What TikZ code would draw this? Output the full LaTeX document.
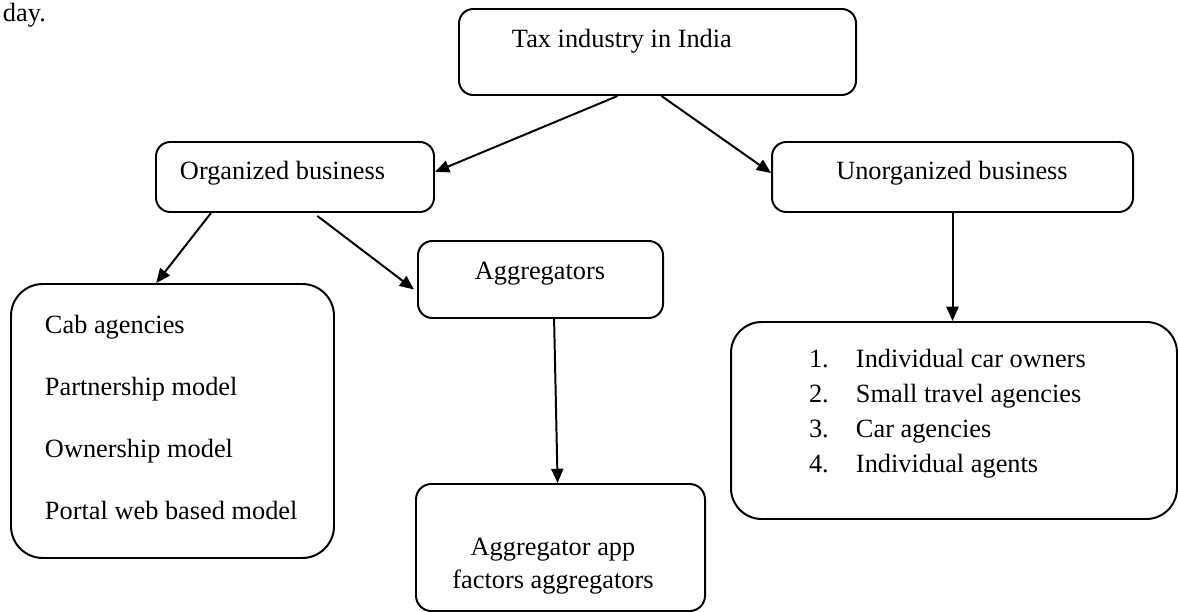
\documentclass[tikz,border=0pt]{standalone}
\usepackage{fontspec}
\setmainfont{Liberation Serif}
\usetikzlibrary{arrows.meta,fit,calc}

\begin{document}
\begin{tikzpicture}[x=0.016cm, y=-0.016cm, line width=0.9pt, every node/.style = {inner sep=0pt, font=\fontsize{12}{14}\selectfont}, >={Triangle[length=6.5pt,width=5.5pt]}]
	\tikzstyle{box} = [draw, rounded corners=6.5pt]
	\tikzstyle{bigbox} = [draw, rounded corners=14.5pt]
	\tikzstyle{txt} = [anchor=base west]
	\tikzstyle{lines} = [align=left, anchor=north west]
	\useasboundingbox (0,0) rectangle (1178,612);
	\node[txt] (day) at (2,22) {day.};
	% boxes
	\node[box, fit={(459,9) (856,95)}] (tax) {};
	\node[box, fit={(156,142) (434,212)}] (org) {};
	\node[box, fit={(772,142) (1133,212)}] (unorg) {};
	\node[box, fit={(418,241) (663,318)}] (agg) {};
	\node[bigbox, fit={(11,284) (334,558)}] (cab) {};
	\node[box, rounded corners=7pt, fit={(416,484) (705,611)}] (app) {};
	\node[bigbox, rounded corners=14pt, fit={(731,322) (1177,519)}] (unlist) {};
	% texts
	\node[txt] (taxtext) at (511,48) {Tax industry in India};
	\node[txt] (orgtext) at (179,180) {Organized business};
	\node[anchor=base] (unorgtext) at (952,180) {Unorganized business};
	\node[anchor=base] (aggtext) at (540,279) {Aggregators};
	\node[lines, font=\fontsize{12}{28.2}\selectfont] (cabtext) at (44,314) {Cab agencies\\Partnership model\\Ownership model\\Portal web based model};
	\node[align=center, anchor=north, font=\fontsize{12}{15.3}\selectfont] (apptext) at (553,537) {Aggregator app\\factors aggregators};
	\node[lines, font=\fontsize{12}{15.9}\selectfont] (unlisttext) at (808,348) {\makebox[21.4pt][l]{1.}Individual car owners\\\makebox[21.4pt][l]{2.}Small travel agencies\\\makebox[21.4pt][l]{3.}Car agencies\\\makebox[21.4pt][l]{4.}Individual agents};
	% arrows
	\draw[->] ($(tax.south west)!0.40!(tax.south east)$) -- ($(org.east)+(0,-5)$);
	\draw[->] ($(tax.south west)!0.51!(tax.south east)$) -- ($(unorg.west)+(0,-4)$);
	\draw[->] ($(org.south west)!0.20!(org.south east)$) -- ($(cab.north west)!0.45!(cab.north east)$);
	\draw[->] ($(org.south west)!0.58!(org.south east)+(0,3)$) -- ($(agg.west)+(-3,10)$);
	\draw[->] ($(agg.south west)!0.555!(agg.south east)$) -- ($(app.north west)!0.49!(app.north east)$);
	\draw[->] (unorg.south) -- (unorg.south |- unlist.north);
\end{tikzpicture}
\end{document}
